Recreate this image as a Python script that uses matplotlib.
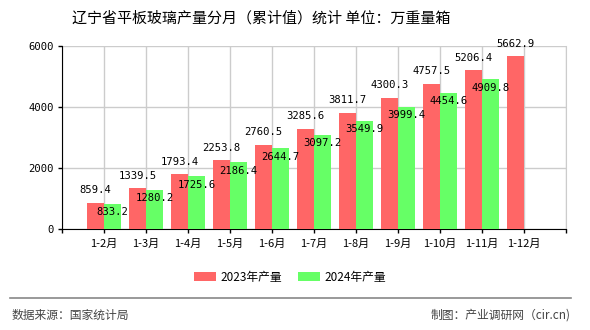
"""Liaoning flat glass output, cumulative by month, 2023 vs 2024."""

import matplotlib

matplotlib.use("Agg")
import matplotlib.pyplot as plt
import numpy as np

plt.rcParams["font.family"] = ["Noto Sans CJK SC", "DejaVu Sans"]

months = ["1-2月", "1-3月", "1-4月", "1-5月", "1-6月", "1-7月",
          "1-8月", "1-9月", "1-10月", "1-11月", "1-12月"]
output_2023 = [859.4, 1339.5, 1793.4, 2253.8, 2760.5, 3285.6,
               3811.7, 4300.3, 4757.5, 5206.4, 5662.9]
output_2024 = [833.2, 1280.2, 1725.6, 2186.4, 2644.7, 3097.2,
               3549.9, 3999.4, 4454.6, 4909.8]
y_ticks = [0, 2000, 4000, 6000]

RED = "#ff6666"
GREEN = "#66ff66"
NUM_FONT = ["DejaVu Sans Mono", "Noto Sans CJK SC"]

fig = plt.figure(figsize=(5.9, 3.3), dpi=100)
ax = fig.add_axes([62 / 590, 101 / 330, 504 / 590, 183 / 330])

pos = np.arange(1, len(months) + 1)
width = 0.4
ax.bar(pos - width / 2, output_2023, width, color=RED, zorder=3, label="2023年产量")
ax.bar(pos[: len(output_2024)] + width / 2, output_2024, width, color=GREEN,
       zorder=3, label="2024年产量")

for x, v in zip(pos - width / 2, output_2023):
    ax.annotate(f"{v:.1f}", (x, v), xytext=(0, 9), textcoords="offset points",
                ha="center", va="center", fontsize=7.6, family=NUM_FONT, zorder=4)
for x, v in zip(pos + width / 2, output_2024):
    ax.annotate(f"{v:.1f}", (x, v), xytext=(0, -6), textcoords="offset points",
                ha="center", va="center", fontsize=7.6, family=NUM_FONT, zorder=4)

ax.set_xlim(0, len(months) + 1)
ax.set_ylim(0, 6000)
ax.set_xticks(np.arange(0, len(months) + 2))
ax.set_xticklabels([""] + months + [""], fontsize=8)
ax.set_yticks(y_ticks)
ax.set_yticklabels([str(t) for t in y_ticks], fontsize=7.6, family=NUM_FONT)
ax.tick_params(axis="both", direction="out", length=3, width=1, pad=3, colors="black")
ax.tick_params(axis="x", pad=4)

ax.grid(True, color="#cccccc", linewidth=1, zorder=0)
ax.set_axisbelow(True)
ax.spines["top"].set_visible(False)
ax.spines["right"].set_color("#cccccc")
ax.spines["left"].set_color("black")
ax.spines["bottom"].set_color("black")

fig.text(261 / 590, 1 - 18 / 330, "辽宁省平板玻璃产量分月（累计值）统计 单位：万重量箱",
         ha="center", va="center", fontsize=10.8, color="black")

ax.legend(loc="center", bbox_to_anchor=(290 / 590, 1 - 277 / 330),
          bbox_transform=fig.transFigure, ncol=2, frameon=False, fontsize=8.5,
          handlelength=1.9, handleheight=0.8, columnspacing=1.35, handletextpad=0.35)

fig.add_artist(plt.Line2D([10 / 590, 571 / 590], [1 - 297.5 / 330] * 2,
                          transform=fig.transFigure, color="#888888", linewidth=1.2))
fig.text(12 / 590, 1 - 315 / 330, "数据来源：国家统计局", ha="left", va="center",
         fontsize=8.5, color="#444444")
fig.text(571 / 590, 1 - 315 / 330, "制图：产业调研网（cir.cn)", ha="right", va="center",
         fontsize=8.5, color="#444444")

fig.savefig("out.png", dpi=100)
